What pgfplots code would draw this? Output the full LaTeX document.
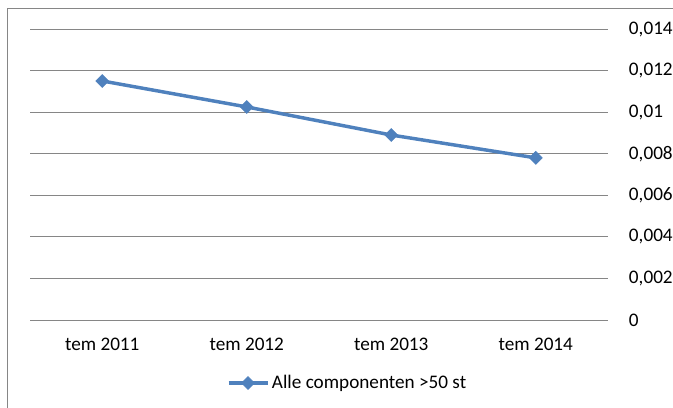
\documentclass[border=0pt]{standalone}
\usepackage{pgfplots}
\pgfplotsset{compat=1.18}
\usepackage{fontspec}
\setmainfont{Carlito}
\definecolor{serieblue}{RGB}{79,129,189}
\definecolor{gridgray}{RGB}{134,134,134}
\definecolor{framegray}{RGB}{134,134,134}
\begin{document}
\begin{tikzpicture}[x=0.75pt,y=0.75pt]
\useasboundingbox (0,0) rectangle (673,407);
% chart frame
\draw[framegray, line width=0.75pt] (7,-5) -- (7,398) -- (680,398);
\begin{axis}[
  at={(22.5pt,65.25pt)}, anchor=south west,
  scale only axis,
  width=433.5pt, height=218.25pt,
  xmin=-0.5, xmax=3.5,
  ymin=0, ymax=0.014,
  xtick={0,1,2,3},
  xticklabels={tem 2011,tem 2012,tem 2013,tem 2014},
  ytick={0,0.002,0.004,0.006,0.008,0.01,0.012,0.014},
  scaled y ticks=false,
  yticklabel pos=right,
  /pgf/number format/assume math mode=true,
  /pgf/number format/.cd, use comma, fixed, precision=3, 1000 sep={},
  /pgfplots/.cd,
  axis line style={draw=none},
  major tick length=0pt,
  ymajorgrids,
  grid style={gridgray, line width=0.75pt},
  tick label style={font=\fontsize{14.4}{17}\selectfont, text=black},
  yticklabel style={anchor=west, xshift=12.2pt},
  xticklabel style={yshift=-10pt},
  legend style={at={(0.55,-0.2165)}, anchor=center, draw=none, fill=none,
    font=\fontsize{14.4}{17}\selectfont, inner sep=0pt,
    /tikz/every even column/.append style={column sep=0pt}},
  legend cell align=left,
  legend image code/.code={
    \draw[mark repeat=2, mark phase=2, #1] plot coordinates {(0pt,0pt) (14.6pt,0pt) (29.2pt,0pt)};
  },
]
\addplot[serieblue, line width=2.6pt, mark=square*, mark size=3.4pt,
  mark options={rotate=45, line width=0.5pt, fill=serieblue}]
  coordinates {(0,0.0115) (1,0.01025) (2,0.0089) (3,0.0078)};
\addlegendentry{Alle componenten >50 st}
\end{axis}
\end{tikzpicture}
\end{document}
